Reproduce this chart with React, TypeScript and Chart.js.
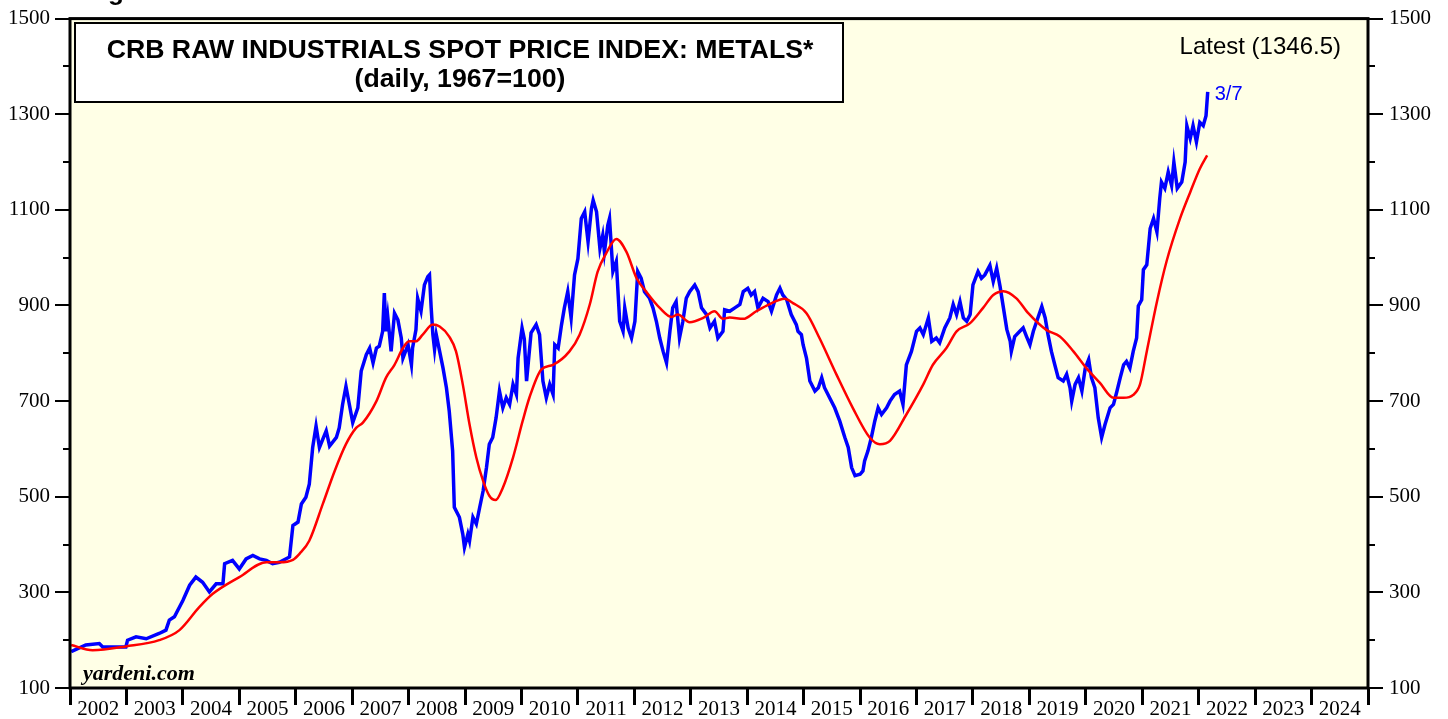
import React, { useEffect, useRef } from 'react';
import { Chart, registerables } from 'chart.js';

Chart.register(...registerables);

const yearLabels = ['2002','2003','2004','2005','2006','2007','2008','2009','2010','2011','2012','2013','2014','2015','2016','2017','2018','2019','2020','2021','2022','2023','2024'];

const priceYears = [
  2002.02,2002.28,2002.52,2002.58,2002.99,2003.02,2003.17,2003.35,2003.58,2003.70,2003.76,2003.85,
  2004.00,2004.12,2004.23,2004.35,2004.47,2004.59,2004.71,2004.74,2004.88,2005.00,2005.12,2005.24,
  2005.36,2005.48,2005.59,2005.71,2005.89,2005.95,2006.04,2006.10,2006.18,2006.24,2006.30,2006.36,
  2006.42,2006.54,2006.60,2006.72,2006.77,2006.83,2006.89,2006.95,2007.01,2007.10,2007.16,2007.25,
  2007.31,2007.37,2007.43,2007.48,2007.54,2007.57,2007.60,2007.63,2007.69,2007.75,2007.81,2007.87,
  2007.90,2007.99,2008.05,2008.07,2008.13,2008.16,2008.22,2008.28,2008.34,2008.37,2008.40,2008.43,
  2008.46,2008.49,2008.55,2008.61,2008.67,2008.72,2008.78,2008.81,2008.90,2008.96,2008.99,2009.05,
  2009.08,2009.14,2009.20,2009.26,2009.32,2009.38,2009.43,2009.49,2009.55,2009.61,2009.67,2009.73,
  2009.79,2009.85,2009.91,2009.94,2010.01,2010.05,2010.09,2010.17,2010.26,2010.32,2010.38,2010.44,
  2010.50,2010.56,2010.59,2010.65,2010.71,2010.76,2010.82,2010.88,2010.94,2011.00,2011.06,2011.12,
  2011.18,2011.24,2011.27,2011.33,2011.39,2011.44,2011.47,2011.53,2011.56,2011.62,2011.68,2011.74,
  2011.80,2011.83,2011.89,2011.95,2012.01,2012.06,2012.12,2012.18,2012.27,2012.33,2012.39,2012.45,
  2012.51,2012.57,2012.63,2012.68,2012.74,2012.80,2012.86,2012.92,2012.98,2013.07,2013.13,2013.19,
  2013.28,2013.34,2013.42,2013.48,2013.57,2013.60,2013.69,2013.78,2013.87,2013.93,2014.01,2014.07,
  2014.13,2014.19,2014.28,2014.37,2014.43,2014.52,2014.58,2014.63,2014.70,2014.78,2014.87,2014.90,
  2014.96,2014.99,2015.05,2015.11,2015.20,2015.26,2015.32,2015.37,2015.46,2015.55,2015.64,2015.73,
  2015.79,2015.85,2015.91,2016.00,2016.05,2016.08,2016.14,2016.20,2016.26,2016.32,2016.38,2016.47,
  2016.53,2016.61,2016.70,2016.76,2016.82,2016.91,2017.00,2017.06,2017.12,2017.21,2017.27,2017.35,
  2017.41,2017.50,2017.59,2017.65,2017.71,2017.77,2017.83,2017.89,2017.95,2018.00,2018.09,2018.15,
  2018.21,2018.30,2018.36,2018.42,2018.48,2018.54,2018.60,2018.66,2018.68,2018.74,2018.83,2018.89,
  2018.95,2019.01,2019.07,2019.13,2019.22,2019.28,2019.33,2019.39,2019.45,2019.51,2019.60,2019.66,
  2019.72,2019.75,2019.81,2019.87,2019.93,2019.99,2020.05,2020.10,2020.16,2020.22,2020.28,2020.34,
  2020.43,2020.49,2020.55,2020.61,2020.67,2020.72,2020.78,2020.84,2020.90,2020.93,2020.99,2021.02,
  2021.08,2021.14,2021.20,2021.26,2021.31,2021.34,2021.40,2021.46,2021.52,2021.56,2021.62,2021.70,
  2021.76,2021.79,2021.85,2021.90,2021.96,2022.02,2022.08,2022.13,2022.16
];

const priceValues = [
  176,190,193,186,186,200,207,203,214,221,242,249,
  283,315,332,321,301,318,318,360,367,349,370,377,
  370,367,360,363,374,440,447,485,499,526,603,648,
  603,638,606,624,644,693,731,693,655,686,763,797,
  811,780,811,815,846,926,846,877,804,884,870,832,
  790,818,776,811,849,915,888,943,960,964,895,839,
  808,839,804,769,728,679,596,478,457,422,394,422,
  408,457,443,478,512,561,610,624,665,721,686,707,
  693,735,714,790,853,830,742,843,860,839,742,707,
  735,714,818,811,860,895,929,874,964,998,1082,1096,
  1033,1103,1120,1096,1019,1047,1012,1068,1082,971,992,867,
  846,895,853,832,867,971,957,929,915,895,867,832,
  804,780,846,895,908,832,867,915,929,943,929,895,
  881,853,867,832,846,891,888,895,902,929,936,922,
  929,895,915,908,888,922,936,922,912,881,860,846,
  839,818,790,742,721,728,749,728,707,686,658,624,
  603,561,544,547,554,575,596,624,658,686,672,686,
  700,714,721,693,776,804,846,853,839,874,825,832,
  822,853,874,902,881,908,874,867,881,943,971,957,
  964,984,950,978,940,895,850,825,804,835,846,853,
  835,818,846,867,898,874,839,804,776,749,742,756,
  728,700,735,749,721,769,787,749,728,665,624,651,
  686,693,720,749,776,783,769,804,832,899,912,975,
  985,1061,1082,1054,1124,1158,1145,1179,1151,1200,1145,1158,
  1200,1276,1249,1276,1242,1283,1276,1297,1346.5
];

const avgYears = [
  2002.02,2002.40,2002.99,2003.58,2003.94,2004.29,2004.53,2005.00,2005.48,2005.71,2005.95,2006.07,
  2006.24,2006.48,2006.69,2006.89,2007.07,2007.19,2007.43,2007.60,2007.75,2007.90,2008.01,2008.13,
  2008.25,2008.43,2008.55,2008.72,2008.84,2008.96,2009.08,2009.20,2009.32,2009.43,2009.54,2009.67,
  2009.85,2010.02,2010.14,2010.35,2010.56,2010.85,2011.03,2011.21,2011.35,2011.50,2011.68,2011.86,
  2012.04,2012.21,2012.45,2012.66,2012.77,2012.98,2013.22,2013.42,2013.57,2013.69,2013.93,2014.16,
  2014.40,2014.66,2014.81,2015.05,2015.28,2015.58,2015.87,2016.17,2016.35,2016.53,2016.82,2017.12,
  2017.29,2017.53,2017.71,2017.95,2018.18,2018.36,2018.54,2018.77,2018.98,2019.30,2019.54,2019.78,
  2020.01,2020.25,2020.49,2020.67,2020.84,2020.96,2021.08,2021.26,2021.43,2021.67,2021.85,2022.02,
  2022.15
];

const avgValues = [
  190,179,187,200,221,269,297,332,363,363,368,381,
  408,485,554,610,644,655,700,749,776,811,825,825,
  839,860,856,835,804,735,651,582,533,502,493,519,
  582,658,707,766,776,804,839,902,971,1009,1039,1012,
  957,929,895,876,881,865,874,888,872,875,872,888,
  903,914,905,884,832,756,686,624,610,617,672,735,
  776,811,846,863,895,922,930,915,884,849,835,804,
  769,738,707,707,713,735,804,908,992,1082,1137,1186,
  1214
];

const latestValue = 1346.5;
const latestDate = '3/7';

const SANS = '"Liberation Sans", Arial, Helvetica, sans-serif';
const SERIF = '"Liberation Serif", "Times New Roman", serif';

const decorPlugin = {
  id: 'decor',
  beforeDraw(chart: any) {
    const { ctx, chartArea, width, height } = chart;
    ctx.save();
    ctx.fillStyle = '#ffffff';
    ctx.fillRect(0, 0, width, height);
    ctx.fillStyle = '#FFFFE6';
    ctx.fillRect(chartArea.left, chartArea.top, chartArea.right - chartArea.left, chartArea.bottom - chartArea.top);
    ctx.restore();
  },
  afterDraw(chart: any) {
    const { ctx, chartArea } = chart;
    const ys = chart.scales.y;
    const xs = chart.scales.x;
    ctx.save();
    // minor ticks
    ctx.strokeStyle = '#000';
    ctx.lineWidth = 2;
    for (let v = 200; v < 1500; v += 200) {
      const py = Math.round(ys.getPixelForValue(v));
      ctx.beginPath();
      ctx.moveTo(chartArea.left - 7, py);
      ctx.lineTo(chartArea.left, py);
      ctx.moveTo(chartArea.right, py);
      ctx.lineTo(chartArea.right + 7, py);
      ctx.stroke();
    }
    // frame
    ctx.lineWidth = 3;
    ctx.strokeRect(chartArea.left, chartArea.top, chartArea.right - chartArea.left, chartArea.bottom - chartArea.top);

    // title box
    ctx.fillStyle = '#ffffff';
    ctx.fillRect(75, 23, 768, 79);
    ctx.lineWidth = 2;
    ctx.strokeRect(75, 23, 768, 79);
    ctx.fillStyle = '#000';
    ctx.font = 'bold 26.7px ' + SANS;
    ctx.textAlign = 'center';
    ctx.textBaseline = 'alphabetic';
    ctx.fillText('CRB RAW INDUSTRIALS SPOT PRICE INDEX: METALS*', 460, 58);
    ctx.fillText('(daily, 1967=100)', 460, 87);

    // latest
    ctx.font = '24px ' + SANS;
    ctx.textAlign = 'right';
    ctx.fillText('Latest (' + latestValue + ')', 1341, 54);

    // date label
    const lx = xs.getPixelForValue(priceYears[priceYears.length - 1]);
    const ly = ys.getPixelForValue(latestValue);
    ctx.fillStyle = '#0000FF';
    ctx.font = '20px ' + SANS;
    ctx.textAlign = 'left';
    ctx.fillText(latestDate, lx + 7, ly + 8);

    // source
    ctx.fillStyle = '#000';
    ctx.font = 'italic bold 22px ' + SERIF;
    ctx.fillText('yardeni.com', 83, 680);

    // cut-off figure heading
    ctx.font = 'bold 26px ' + SANS;
    ctx.fillText('Figure', 85, 0);
    ctx.restore();
  },
};

export default function App() {
  const ref = useRef<HTMLCanvasElement>(null);
  useEffect(() => {
    const canvas = ref.current;
    if (!canvas) return;
    const yTicks = {
      color: '#000',
      font: { family: SERIF, size: 21 },
      stepSize: 200,
      callback: (v: any) => String(v),
    };
    const chart = new Chart(canvas, {
      type: 'line',
      data: {
        datasets: [
          {
            label: 'Metals index',
            data: priceYears.map((x, i) => ({ x, y: priceValues[i] })),
            borderColor: '#0000FF',
            borderWidth: 3.5,
            pointRadius: 0,
            tension: 0,
            xAxisID: 'x',
            yAxisID: 'y',
            order: 2,
          },
          {
            label: 'Moving average',
            data: avgYears.map((x, i) => ({ x, y: avgValues[i] })),
            borderColor: '#FF0000',
            borderWidth: 2.5,
            pointRadius: 0,
            cubicInterpolationMode: 'monotone',
            xAxisID: 'x',
            yAxisID: 'y',
            order: 1,
          },
        ],
      },
      options: {
        animation: false,
        responsive: false,
        layout: { padding: { top: 16, left: 0, right: 0, bottom: 0 } },
        plugins: { legend: { display: false }, tooltip: { enabled: false } },
        scales: {
          x: { type: 'linear', display: false, min: 2002, max: 2025 },
          xYears: {
            type: 'category',
            labels: yearLabels,
            position: 'bottom',
            offset: true,
            grid: { offset: true, drawOnChartArea: false, drawTicks: true, tickLength: 17, color: '#000', lineWidth: 3 },
            border: { display: false },
            ticks: {
              color: '#000',
              font: { family: SERIF, size: 21, lineHeight: 1 },
              padding: -6,
              maxRotation: 0,
              autoSkip: false,
            },
            afterFit: (s: any) => { s.height = 31; },
          },
          y: {
            type: 'linear',
            position: 'left',
            min: 100,
            max: 1500,
            ticks: { ...yTicks, padding: 5 },
            grid: { drawOnChartArea: false, drawTicks: true, tickLength: 15, color: '#000', lineWidth: 2 },
            border: { display: false },
            afterFit: (s: any) => { s.width = 70; },
          },
          y2: {
            type: 'linear',
            position: 'right',
            min: 100,
            max: 1500,
            ticks: { ...yTicks, padding: 6 },
            grid: { drawOnChartArea: false, drawTicks: true, tickLength: 15, color: '#000', lineWidth: 2 },
            border: { display: false },
            afterFit: (s: any) => { s.width = 80; },
          },
        },
      } as any,
      plugins: [decorPlugin],
    });
    return () => chart.destroy();
  }, []);
  return (
    <div style={{ position: 'fixed', left: 0, top: 0, width: 1448, height: 719, overflow: 'hidden', background: '#fff' }}>
      <canvas ref={ref} width={1448} height={719} style={{ display: 'block', width: 1448, height: 719 }} />
    </div>
  );
}
